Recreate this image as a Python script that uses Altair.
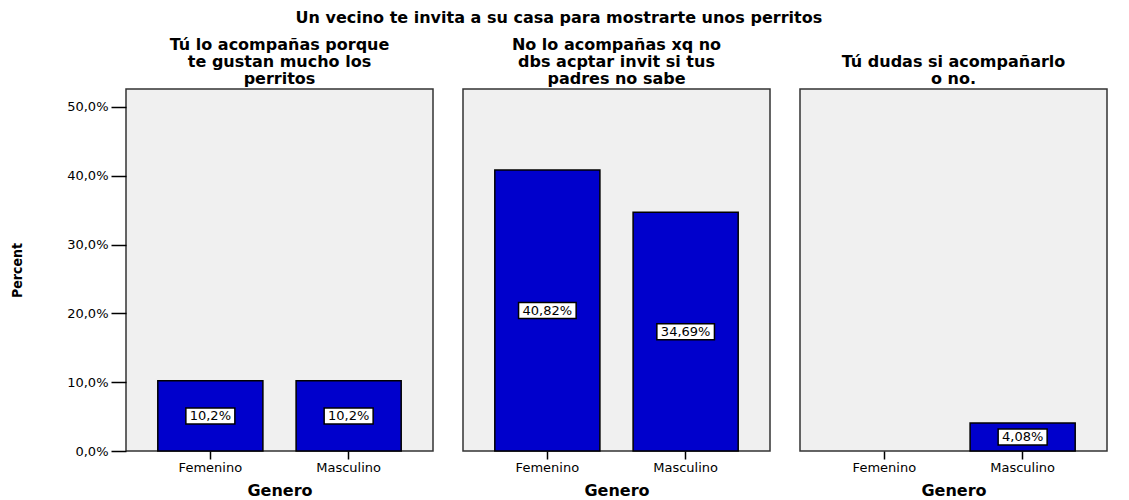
import altair as alt
import pandas as pd

title_main = "Un vecino te invita a su casa para mostrarte unos perritos"
panel_titles = [
    ["Tú lo acompañas porque", "te gustan mucho los", "perritos"],
    ["No lo acompañas xq no", "dbs acptar invit si tus", "padres no sabe"],
    ["Tú dudas si acompañarlo", "o no."],
]
genders = ["Femenino", "Masculino"]
values = [[10.2, 10.2], [40.82, 34.69], [None, 4.08]]
labels = [["10,2%", "10,2%"], ["40,82%", "34,69%"], [None, "4,08%"]]
y_ticks = [0, 10, 20, 30, 40, 50]

FONT = "DejaVu Sans"
BAR = "#0000CC"


def panel(i):
    df = pd.DataFrame({"Genero": genders, "Percent": values[i], "label": labels[i]}).dropna()
    base = alt.Chart(df)
    x = alt.X(
        "Genero:N",
        scale=alt.Scale(domain=genders, paddingInner=0.24, paddingOuter=0.23),
        axis=alt.Axis(
            title="Genero", labelAngle=0, domain=False, tickSize=8, tickWidth=1.5,
            tickColor="black", labelFont=FONT, labelFontSize=13, labelColor="black",
            labelPadding=2, titleFont=FONT, titleFontSize=16, titleFontWeight="bold",
            titleColor="black", titlePadding=8,
        ),
    )
    yscale = alt.Scale(domain=[0, 52.6], nice=False, zero=True)
    if i == 0:
        yaxis = alt.Axis(
            title="Percent", values=y_ticks, domain=False, grid=False, tickSize=15,
            tickWidth=1.5, tickColor="black", labelFont=FONT, labelFontSize=13,
            labelColor="black", labelPadding=3,
            labelExpr="replace(format(datum.value, '.1f'), '.', ',') + '%'",
            titleFont="Liberation Sans Narrow, DejaVu Sans Condensed, DejaVu Sans",
            titleFontSize=14, titleFontWeight="bold", titleColor="black", titlePadding=42,
        )
    else:
        yaxis = None
    y = alt.Y("Percent:Q", scale=yscale, axis=yaxis)
    bars = base.mark_bar(color=BAR, stroke="black", strokeWidth=1.5).encode(x=x, y=y)
    mid = base.transform_calculate(
        mid="datum.Percent / 2",
        hw="length(datum.label) * 4.3 + 3",
    ).transform_calculate(
        path="'M' + (-datum.hw) + ',-8H' + datum.hw + 'V8H' + (-datum.hw) + 'Z'"
    )
    boxes = mid.mark_point(
        filled=True, fill="white", stroke="black", strokeWidth=1.5, size=4, opacity=1
    ).encode(
        x=x,
        y=alt.Y("mid:Q", scale=yscale, axis=yaxis),
        shape=alt.Shape("path:N", scale=None),
    )
    texts = mid.mark_text(font=FONT, fontSize=13, color="black", baseline="middle").encode(
        x=x,
        y=alt.Y("mid:Q", scale=yscale, axis=yaxis),
        text="label:N",
    )
    return alt.layer(bars, boxes, texts).properties(
        width=307,
        height=362,
        title=alt.TitleParams(
            panel_titles[i], font=FONT, fontSize=16, fontWeight="bold", color="black",
            anchor="middle", lineHeight=17, offset=2,
        ),
    )


chart = alt.hconcat(panel(0), panel(1), panel(2), spacing=30, bounds="flush").properties(
    title=alt.TitleParams(
        title_main, font=FONT, fontSize=16, fontWeight="bold", color="black",
        anchor="middle", offset=10,
    ),
    padding={"left": 1, "top": 2, "right": 5, "bottom": 0},
    background="white",
).configure_view(
    fill="#F0F0F0", stroke="#333333", strokeWidth=1.5
)

chart.save("out.html", embed_options={"renderer": "svg", "actions": False})
